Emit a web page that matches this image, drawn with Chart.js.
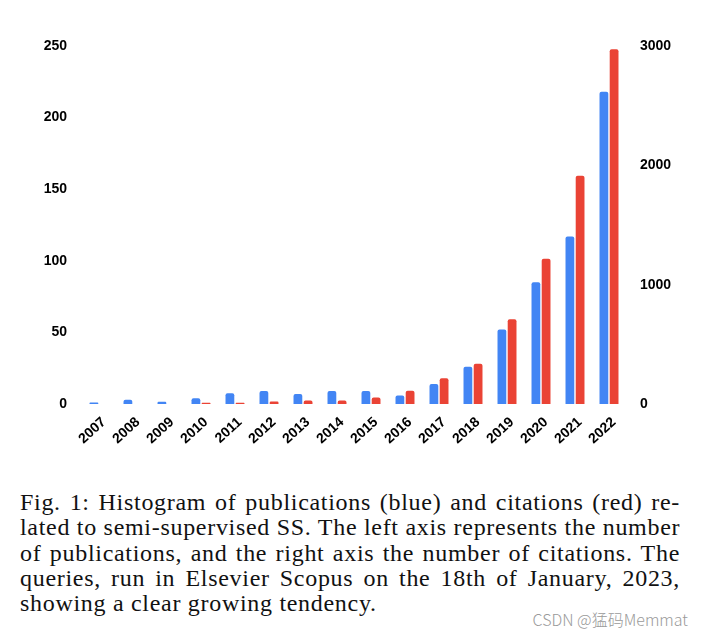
<!DOCTYPE html>
<html>
<head>
<meta charset="utf-8">
<script src="https://cdn.jsdelivr.net/npm/chart.js@4.4.1/dist/chart.umd.min.js"></script>
<style>
  html, body { margin: 0; padding: 0; background: #fff; }
  body { width: 709px; height: 637px; position: relative; overflow: hidden; }
  #wrap { position: absolute; left: 0; top: 0; width: 709px; height: 470px; }
  #caption {
    position: absolute; left: 20px; top: 490px; width: 660px;
    font-family: "Liberation Serif", "DejaVu Serif", serif;
    font-size: 24px; letter-spacing: 0.7px; line-height: 25.3px; color: #111;
  }
  #caption .l { display: block; text-align: justify; text-align-last: justify; white-space: nowrap; }
  #caption .last { text-align: left; text-align-last: left; }
  #wm {
    position: absolute; right: 21px; top: 607px;
    font-family: "Noto Sans CJK SC", "Noto Sans", sans-serif;
    font-size: 16px; font-weight: 300; color: #9a9a9a;
  }
</style>
</head>
<body>
<div id="wrap"><canvas id="c"></canvas></div>
<div id="caption">
  <span class="l">Fig. 1: Histogram of publications (blue) and citations (red) re-</span>
  <span class="l">lated to semi-supervised SS. The left axis represents the number</span>
  <span class="l">of publications, and the right axis the number of citations. The</span>
  <span class="l">queries, run in Elsevier Scopus on the 18th of January, 2023,</span>
  <span class="l last">showing a clear growing tendency.</span>
</div>
<div id="wm">CSDN @猛码Memmat</div>
<script>
const years = ["2007","2008","2009","2010","2011","2012","2013","2014","2015","2016","2017","2018","2019","2020","2021","2022"];
const publications = [1, 3, 1.5, 4, 7.5, 9, 7, 9, 9, 6, 14, 26, 52, 85, 117, 218];
const citations = [0, 0, 0, 10, 10, 20, 30, 30, 55, 110, 215, 338, 710, 1218, 1913, 2972];
const leftTicks = [0, 50, 100, 150, 200, 250];
const rightTicks = [0, 1000, 2000, 3000];

const tickFont = { family: "'Liberation Sans', Arial, sans-serif", size: 14, weight: "bold" };

new Chart(document.getElementById('c'), {
  type: 'bar',
  data: {
    labels: years,
    datasets: [
      { label: 'Publications', data: publications, yAxisID: 'yL', backgroundColor: '#4285F4',
        borderRadius: { topLeft: 2, topRight: 2 }, borderSkipped: 'bottom',
        categoryPercentage: 0.6, barPercentage: 0.86 },
      { label: 'Citations', data: citations, yAxisID: 'yR', backgroundColor: '#EA4335',
        borderRadius: { topLeft: 2, topRight: 2 }, borderSkipped: 'bottom',
        categoryPercentage: 0.6, barPercentage: 0.86 }
    ]
  },
  options: {
    responsive: true,
    maintainAspectRatio: false,
    animation: false,
    layout: { padding: { top: 46, left: 0, right: 0, bottom: 0 } },
    plugins: { legend: { display: false }, tooltip: { enabled: false } },
    scales: {
      x: {
        grid: { display: false, drawTicks: false },
        border: { display: false },
        ticks: {
          color: '#000', font: { family: "'Liberation Sans', Arial, sans-serif", size: 14, weight: 'bold' },
          minRotation: 42, maxRotation: 42, padding: 10, labelOffset: 5, autoSkip: false
        },
        afterFit: s => { s.height = 66; }
      },
      yL: {
        position: 'left', min: 0, max: 250,
        grid: { display: false, drawTicks: false },
        border: { display: false },
        afterBuildTicks: s => { s.ticks = leftTicks.map(v => ({ value: v })); },
        ticks: { color: '#000', font: tickFont, padding: 15, callback: v => String(v) },
        afterFit: s => { s.width = 82; }
      },
      yR: {
        position: 'right', min: 0, max: 3000,
        grid: { display: false, drawTicks: false },
        border: { display: false },
        afterBuildTicks: s => { s.ticks = rightTicks.map(v => ({ value: v })); },
        ticks: { color: '#000', font: tickFont, padding: 14, callback: v => String(v) },
        afterFit: s => { s.width = 83; }
      }
    }
  }
});
</script>
</body>
</html>
